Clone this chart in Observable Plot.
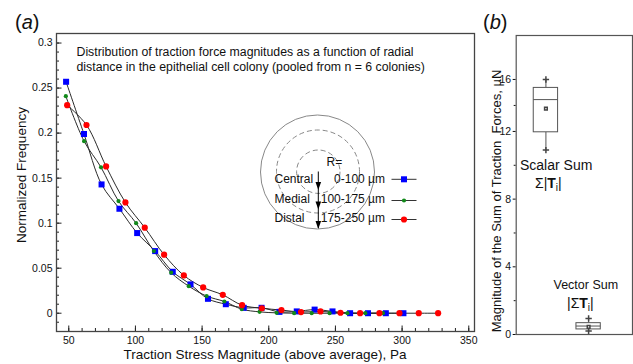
<!DOCTYPE html>
<html><head><meta charset="utf-8">
<script src="https://cdn.jsdelivr.net/npm/d3@7"></script>
<script src="https://cdn.jsdelivr.net/npm/@observablehq/plot@0.6"></script>
<style>
body{margin:0;background:#fff;}
#wrap{position:relative;width:633px;height:364px;overflow:hidden;background:#fff;}
#a,#b{position:absolute;top:0;}
#a{left:0}
#b{left:480px}
</style></head><body>
<div id="wrap"><div id="a"></div><div id="b"></div></div>
<script>
const FONT = '"Liberation Sans", Arial, Helvetica, sans-serif';

// ---- Panel (a) data ----
const seriesNames = ["Central", "Medial", "Distal"];
const seriesRanges = ["0-100 µm", "100-175 µm", "175-250 µm"];
const centralX = [48, 61.4, 74.6, 88, 101.3, 114.8, 128, 141.3, 154.4, 167.8, 181.2, 194.6, 208, 221, 234.4, 247.8, 261, 274.4, 287.8, 301];
const centralY = [0.257, 0.199, 0.143, 0.116, 0.089, 0.069, 0.046, 0.032, 0.016, 0.010, 0.006, 0.006, 0.0015, 0.002, 0.004, 0.002, 0.000, 0.000, 0.000, 0.000];
const medialX = [47.8, 61.5, 74.2, 87.3, 100.5, 113.8, 126.8, 140, 153.4, 166.7, 179.8, 193.1, 205.9, 219, 232.2, 245.6, 259, 272.4, 285.6];
const medialY = [0.241, 0.191, 0.162, 0.1245, 0.100, 0.069, 0.045, 0.030, 0.019, 0.013, 0.0045, 0.0015, 0.0004, 0, 0, 0, 0, 0, 0];
const distalX = [48.8, 63.3, 78, 92.5, 107, 121.5, 136.3, 150.8, 165.5, 180, 194.8, 209.5, 224.2, 238.8, 253.8, 268.5, 283, 298, 312.5, 327];
const distalY = [0.231, 0.209, 0.163, 0.123, 0.095, 0.065, 0.042, 0.0286, 0.0204, 0.0089, 0.0055, 0.0035, 0.0013, 0.002, 0.0005, 0, 0, 0, 0, 0];
const seriesColors = ["#0000ff", "#12891a", "#ff0000"];
const seriesSymbols = ["square", "circle", "circle"];
const seriesR = [3.4, 2.1, 3.1];

const xMajor = [50, 100, 150, 200, 250, 300, 350];
const xMinor = [50, 60, 70, 80, 90, 100, 110, 120, 130, 140, 150, 160, 170, 180, 190, 200, 210, 220, 230, 240, 250, 260, 270, 280, 290, 300, 310, 320, 330, 340, 350];
const yMajor = [0, 0.05, 0.1, 0.15, 0.2, 0.25, 0.3];
const yMajorLabels = ["0", "0.05", "0.1", "0.15", "0.2", "0.25", "0.3"];
const yMinor = [-0.01, 0, 0.01, 0.02, 0.03, 0.04, 0.05, 0.06, 0.07, 0.08, 0.09, 0.1, 0.11, 0.12, 0.13, 0.14, 0.15, 0.16, 0.17, 0.18, 0.19, 0.2, 0.21, 0.22, 0.23, 0.24, 0.25, 0.26, 0.27, 0.28, 0.29, 0.3];

const seriesX = [centralX, medialX, distalX];
const seriesY = [centralY, medialY, distalY];
const rows = [];
seriesNames.forEach((s, k) => seriesX[k].forEach((x, i) => rows.push({series: s, k, x, y: seriesY[k][i]})));

const WA = 480, HA = 364, mL = 56, mR = 6, mT = 33, mB = 33;
const innerW = WA - mL - mR, innerH = HA - mT - mB;

const pa = Plot.plot({
  width: WA, height: HA, marginLeft: mL, marginRight: mR, marginTop: mT, marginBottom: mB,
  style: {fontFamily: FONT, fontSize: "10.5px", background: "white", color: "#111", overflow: "visible"},
  x: {domain: [40.8, 354.3]},
  y: {domain: [-0.0203, 0.3106]},
  marks: [
    Plot.axisX(xMajor, {tickSize: 0, tickPadding: 5, label: null}),
    Plot.axisY(yMajor, {tickSize: 0, tickPadding: 4, label: null, tickFormat: d => yMajorLabels[yMajor.indexOf(d)]}),
    Plot.tickX(xMinor, {x: d => d, insetTop: innerH - 3, stroke: "#222"}),
    Plot.tickX(xMajor, {x: d => d, insetTop: innerH - 5.5, stroke: "#222"}),
    Plot.tickY(yMinor, {y: d => d, insetRight: innerW - 3, stroke: "#222"}),
    Plot.tickY(yMajor, {y: d => d, insetRight: innerW - 5.5, stroke: "#222"}),
    Plot.line(rows, {x: "x", y: "y", z: "series", curve: "catmull-rom", stroke: "#2a2a2a", strokeWidth: 1}),
    ...seriesNames.map((s, k) => Plot.dot(rows.filter(d => d.k === k), {x: "x", y: "y", symbol: seriesSymbols[k], r: seriesR[k], fill: seriesColors[k]})),
    Plot.frame({stroke: "#444", strokeWidth: 1.3})
  ]
});
document.getElementById("a").appendChild(pa);

const ga = d3.select(pa).append("g").attr("font-family", FONT).attr("fill", "#111").attr("text-anchor", "start");
ga.append("text").attr("x", 15).attr("y", 29).attr("font-size", 20)
  .call(t => { t.append("tspan").text("("); t.append("tspan").attr("font-style", "italic").text("a"); t.append("tspan").text(")"); });
ga.append("text").attr("x", 76.5).attr("y", 56).attr("font-size", 12.3).text("Distribution of traction force magnitudes as a function of radial");
ga.append("text").attr("x", 76.5).attr("y", 71).attr("font-size", 12.3).text("distance in the epithelial cell colony (pooled from n = 6 colonies)");
ga.append("text").attr("x", mL + innerW / 2).attr("y", 359).attr("font-size", 13.5).attr("text-anchor", "middle")
  .text("Traction Stress Magnitude (above average), Pa");
ga.append("text").attr("transform", `translate(26,${mT + innerH / 2 - 7}) rotate(-90)`).attr("font-size", 13.5).attr("text-anchor", "middle")
  .text("Normalized Frequency");

// legend inset
const lg = ga.append("g");
lg.append("circle").attr("cx", 317.5).attr("cy", 172).attr("r", 57).attr("fill", "none").attr("stroke", "#888").attr("stroke-width", 1);
lg.append("circle").attr("cx", 318).attr("cy", 171.5).attr("r", 41.5).attr("fill", "none").attr("stroke", "#888").attr("stroke-width", 1).attr("stroke-dasharray", "5,3");
lg.append("circle").attr("cx", 318.3).attr("cy", 171.7).attr("r", 21.7).attr("fill", "none").attr("stroke", "#888").attr("stroke-width", 1).attr("stroke-dasharray", "5,3");
lg.append("line").attr("x1", 318.3).attr("x2", 318.3).attr("y1", 171.5).attr("y2", 228).attr("stroke", "#000").attr("stroke-width", 1);
[190, 209.5, 229].forEach(y => lg.append("path").attr("d", `M${318.3 - 2.8},${y - 8}L${318.3 + 2.8},${y - 8}L318.3,${y}Z`).attr("fill", "#000"));
lg.append("text").attr("x", 326.5).attr("y", 165.5).attr("font-size", 12).text("R=");
const rowY = [182.5, 202.5, 222.3];
const markY = [179.3, 200.5, 219.5];
seriesNames.forEach((s, k) => {
  lg.append("text").attr("x", 274.5).attr("y", rowY[k]).attr("font-size", 12).text(s);
  lg.append("text").attr("x", 385).attr("y", rowY[k]).attr("font-size", 12).attr("text-anchor", "end").text(seriesRanges[k]);
  lg.append("line").attr("x1", 391.5).attr("x2", 416.5).attr("y1", markY[k]).attr("y2", markY[k]).attr("stroke", "#333").attr("stroke-width", 1);
  const sym = d3.symbol().type(seriesSymbols[k] === "square" ? d3.symbolSquare : d3.symbolCircle).size(Math.PI * seriesR[k] * seriesR[k]);
  lg.append("path").attr("d", sym()).attr("transform", `translate(404,${markY[k]})`).attr("fill", seriesColors[k]);
});

// ---- Panel (b) data ----
const sumNames = ["Scalar Sum", "Vector Sum"];
const sumPos = [1, 2];
const sumMin = [10.9, 0.2];
const sumQ1 = [11.95, 0.3];
const sumMed = [14.45, 0.5];
const sumQ3 = [15.35, 0.67];
const sumMax = [16.0, 0.95];
const sumMean = [13.75, 0.45];
const bMajor = [0, 4, 8, 12, 16];
const bMinor = [2, 6, 10, 14];
const idx = [0, 1];
const hw = 0.285;
// the axis of panel (b) is compressed above 12 (scale break)
const bY = v => v <= 12 ? v : 12 + (v - 12) * 0.768;

const pb = Plot.plot({
  width: 153, height: 364, marginLeft: 35.7, marginRight: 1, marginTop: 35, marginBottom: 30,
  style: {fontFamily: FONT, fontSize: "10.5px", background: "white", color: "#111", overflow: "visible"},
  x: {domain: [0.304, 3.028], axis: null},
  y: {domain: [0, 17.67]},
  marks: [
    Plot.axisY(bMajor.map(bY), {tickSize: 3, tickPadding: 2, label: null, tickFormat: d => String(bMajor[bMajor.map(bY).indexOf(d)])}),
    Plot.axisY(bMinor.map(bY), {tickSize: 2, tickFormat: () => "", label: null}),
    Plot.ruleX(idx, {x: i => sumPos[i], y1: i => bY(sumMin[i]), y2: i => bY(sumQ1[i]), stroke: "#555"}),
    Plot.ruleX(idx, {x: i => sumPos[i], y1: i => bY(sumQ3[i]), y2: i => bY(sumMax[i]), stroke: "#555"}),
    Plot.rect(idx, {x1: i => sumPos[i] - hw, x2: i => sumPos[i] + hw, y1: i => bY(sumQ1[i]), y2: i => bY(sumQ3[i]), fill: "white", stroke: "#555"}),
    Plot.ruleY(idx, {y: i => bY(sumMed[i]), x1: i => sumPos[i] - hw, x2: i => sumPos[i] + hw, stroke: "#555"}),
    Plot.dot(idx, {x: i => sumPos[i], y: i => bY(sumMin[i]), symbol: "plus", r: 2.2, stroke: "#444"}),
    Plot.dot(idx, {x: i => sumPos[i], y: i => bY(sumMax[i]), symbol: "plus", r: 2.2, stroke: "#444"}),
    Plot.dot(idx, {x: i => sumPos[i], y: i => bY(sumMean[i]), symbol: "square", r: 1.5, stroke: "#444", fill: "white"}),
    Plot.frame({stroke: "#555", strokeWidth: 1.2})
  ]
});
document.getElementById("b").appendChild(pb);
const gb = d3.select(pb).append("g").attr("font-family", FONT).attr("fill", "#111").attr("text-anchor", "start");
gb.append("text").attr("x", 3).attr("y", 29).attr("font-size", 20)
  .call(t => { t.append("tspan").text("("); t.append("tspan").attr("font-style", "italic").text("b"); t.append("tspan").text(")"); });
gb.append("text").attr("transform", "translate(21,201) rotate(-90)").attr("font-size", 13).attr("text-anchor", "middle")
  .style("white-space", "pre").text("Magnitude of the Sum of Traction  Forces, µN");
gb.append("text").attr("x", 40).attr("y", 170).attr("font-size", 14).text(sumNames[0]);
gb.append("text").attr("x", 55).attr("y", 188).attr("font-size", 14)
  .call(t => { t.append("tspan").text("Σ|"); t.append("tspan").attr("font-weight", "bold").text("T"); t.append("tspan").attr("font-size", 10).attr("dy", 3).text("i"); t.append("tspan").attr("dy", -3).text("|"); });
gb.append("text").attr("x", 73.5).attr("y", 289).attr("font-size", 12.5).text(sumNames[1]);
gb.append("text").attr("x", 87).attr("y", 308).attr("font-size", 14)
  .call(t => { t.append("tspan").text("|Σ"); t.append("tspan").attr("font-weight", "bold").text("T"); t.append("tspan").attr("font-size", 10).attr("dy", 3).text("i"); t.append("tspan").attr("dy", -3).text("|"); });
</script>
</body></html>
